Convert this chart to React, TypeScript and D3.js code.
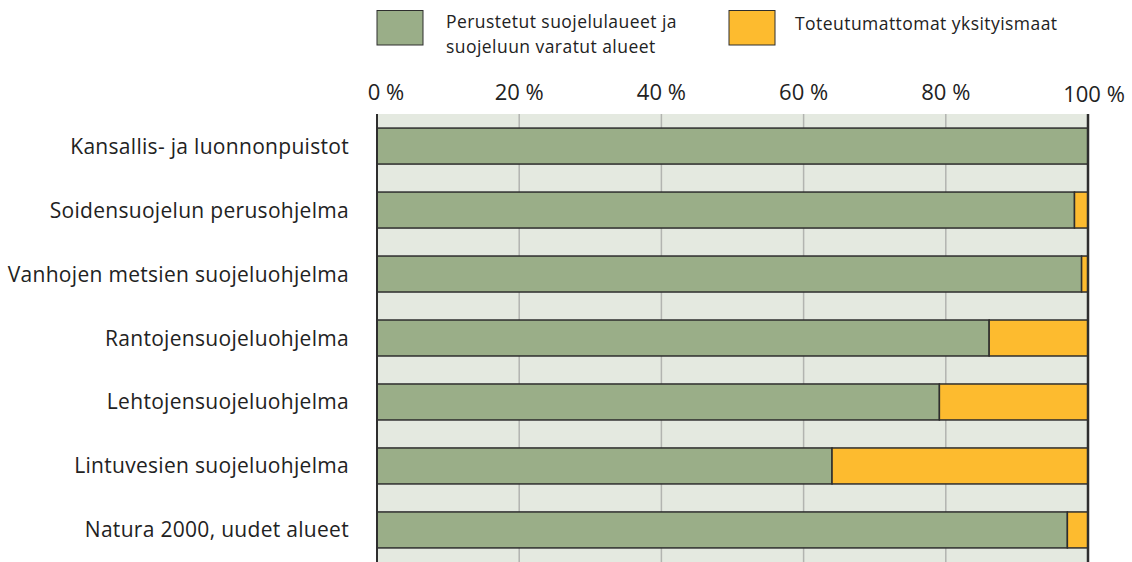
import React from 'react'
import * as d3 from 'd3'

const categories = [
  'Kansallis- ja luonnonpuistot',
  'Soidensuojelun perusohjelma',
  'Vanhojen metsien suojeluohjelma',
  'Rantojensuojeluohjelma',
  'Lehtojensuojeluohjelma',
  'Lintuvesien suojeluohjelma',
  'Natura 2000, uudet alueet',
]
// % established / reserved areas
const established = [100, 98.1, 99.1, 86.1, 79.1, 64.0, 97.1]
// % unrealised private land
const unrealised = [0, 1.9, 0.9, 13.9, 20.9, 36.0, 2.9]
const ticks = [0, 20, 40, 60, 80, 100]
const legendLabels = [
  ['Perustetut suojelulaueet ja', 'suojeluun varatut alueet'],
  ['Toteutumattomat yksityismaat'],
]

const W = 1132
const H = 562
const GREEN = '#9aae88'
const YELLOW = '#fdbb2f'
const BG = '#e4e9e0'
const DARK = '#2e2e2e'
const FONT = '"Open Sans", "Noto Sans", sans-serif'

export default function App() {
  const x = d3.scaleLinear().domain([0, 100]).range([377, 1088])
  const y = d3.scaleBand<string>()
    .domain(categories)
    .range([114, 562])
    .paddingInner(0.4375)
    .paddingOuter(0.22)

  const legendX = [377, 729]
  const legendColors = [GREEN, YELLOW]

  return (
    <svg width={W} height={H}
      style={{ position: 'absolute', left: 0, top: 0, background: '#fff', fontFamily: FONT }}>
      {/* legend */}
      {legendLabels.map((lines, i) => (
        <g key={i}>
          <rect x={legendX[i]} y={10.5} width={46} height={34.5}
            fill={legendColors[i]} stroke={DARK} strokeWidth={1} />
          <text x={legendX[i] + (i === 0 ? 69 : 66)} y={i === 0 ? 28 : 30}
            fontSize={17.5} letterSpacing={0.45} fill="#222">
            {lines.map((l, j) => (
              <tspan key={j} x={legendX[i] + (i === 0 ? 69 : 66)} dy={j === 0 ? 0 : 25}>{l}</tspan>
            ))}
          </text>
        </g>
      ))}

      {/* tick labels */}
      {ticks.map((t) => (
        <text key={t} x={x(t) + (t === 0 ? 9 : t === 100 ? 6 : 0)} y={t === 100 ? 102 : 100}
          textAnchor="middle" fontSize={22} fill="#222">
          {t} %
        </text>
      ))}

      {/* plot background */}
      <rect x={x(0)} y={114} width={x(100) - x(0)} height={H - 114} fill={BG} />

      {/* gridlines */}
      {ticks.slice(1, -1).map((t) => (
        <line key={t} x1={x(t)} x2={x(t)} y1={114} y2={H}
          stroke="#b2b4b0" strokeWidth={1.5} />
      ))}

      {/* bars */}
      {categories.map((c, i) => (
        <g key={c}>
          <rect x={x(0)} y={y(c)} width={x(established[i]) - x(0)} height={y.bandwidth()}
            fill={GREEN} stroke={DARK} strokeWidth={1.5} />
          {unrealised[i] > 0 && (
            <rect x={x(established[i])} y={y(c)}
              width={x(established[i] + unrealised[i]) - x(established[i])}
              height={y.bandwidth()} fill={YELLOW} stroke={DARK} strokeWidth={1.5} />
          )}
          <text x={349} y={(y(c) ?? 0) + y.bandwidth() / 2 + 7.5}
            textAnchor="end" fontSize={21} letterSpacing={0.3} fill="#222">
            {c}
          </text>
        </g>
      ))}

      {/* axis lines */}
      <line x1={x(0)} x2={x(0)} y1={114} y2={H} stroke={DARK} strokeWidth={2} />
      <line x1={x(100)} x2={x(100)} y1={114} y2={H} stroke={DARK} strokeWidth={2.5} />
    </svg>
  )
}
